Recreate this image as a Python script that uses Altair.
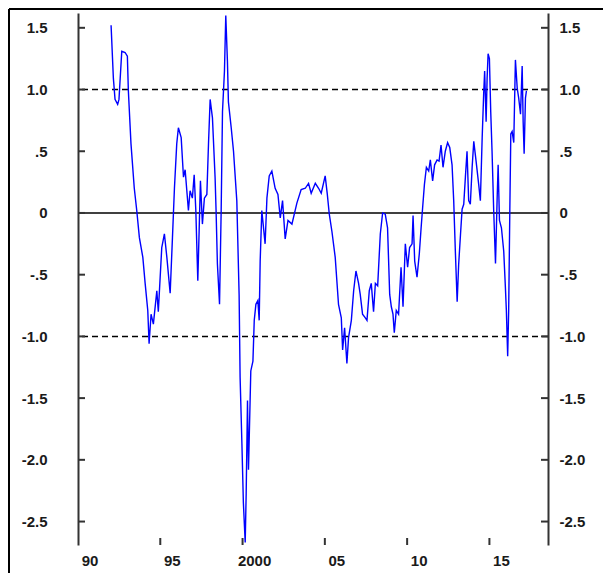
import altair as alt
import pandas as pd

years = [1992.01, 1992.15, 1992.25, 1992.41, 1992.49, 1992.66, 1992.86, 1993.0, 1993.06, 1993.22,
         1993.42, 1993.57, 1993.73, 1993.94, 1994.08, 1994.24, 1994.32, 1994.44, 1994.58, 1994.79,
         1994.88, 1995.09, 1995.25, 1995.4, 1995.6, 1995.74, 1995.86, 1996.0, 1996.1, 1996.27,
         1996.41, 1996.51, 1996.71, 1996.81, 1996.95, 1997.06, 1997.16, 1997.28, 1997.36, 1997.44,
         1997.56, 1997.68, 1997.83, 1997.93, 1998.03, 1998.17, 1998.33, 1998.39, 1998.47, 1998.6,
         1998.7, 1998.78, 1998.9, 1998.98, 1999.08, 1999.14, 1999.31, 1999.45, 1999.65, 1999.79,
         1999.85, 1999.96, 2000.05, 2000.16, 2000.22, 2000.3, 2000.36, 2000.5, 2000.63, 2000.71,
         2000.81, 2000.93, 2001.01, 2001.07, 2001.17, 2001.37, 2001.48, 2001.62, 2001.78, 2001.98,
         2002.15, 2002.29, 2002.43, 2002.59, 2002.76, 2003.0, 2003.3, 2003.56, 2003.81, 2004.01,
         2004.17, 2004.42, 2004.62, 2004.78, 2005.02, 2005.15, 2005.27, 2005.43, 2005.63, 2005.74,
         2005.83, 2006.0, 2006.08, 2006.2, 2006.34, 2006.44, 2006.61, 2006.75, 2006.89, 2007.05,
         2007.15, 2007.29, 2007.46, 2007.56, 2007.7, 2007.82, 2007.96, 2008.07, 2008.21, 2008.37,
         2008.51, 2008.67, 2008.81, 2008.94, 2009.04, 2009.14, 2009.22, 2009.34, 2009.48, 2009.63,
         2009.75, 2009.89, 2010.03, 2010.15, 2010.3, 2010.36, 2010.46, 2010.6, 2010.74, 2010.85,
         2010.94, 2011.05, 2011.17, 2011.31, 2011.41, 2011.55, 2011.67, 2011.82, 2011.94, 2012.06,
         2012.18, 2012.32, 2012.46, 2012.59, 2012.73, 2012.83, 2012.93, 2013.04, 2013.13, 2013.24,
         2013.34, 2013.44, 2013.54, 2013.64, 2013.74, 2013.84, 2013.95, 2014.05, 2014.19, 2014.35,
         2014.45, 2014.56, 2014.65, 2014.71, 2014.8, 2014.86, 2014.92, 2015.0, 2015.08, 2015.16,
         2015.26, 2015.37, 2015.47, 2015.53, 2015.61, 2015.73, 2015.87, 2015.97, 2016.03, 2016.11,
         2016.17, 2016.24, 2016.3, 2016.38, 2016.48, 2016.58, 2016.69, 2016.78, 2016.89, 2016.99,
         2017.05, 2017.11, 2017.19, 2017.25]
values = [1.52, 1.09, 0.92, 0.88, 0.92, 1.31, 1.30, 1.27, 0.99, 0.56,
          0.20, 0.02, -0.20, -0.36, -0.57, -0.79, -1.06, -0.82, -0.90, -0.63,
          -0.80, -0.28, -0.17, -0.36, -0.65, -0.20, 0.20, 0.56, 0.69, 0.61,
          0.29, 0.35, 0.02, 0.18, 0.12, 0.31, 0.02, -0.55, -0.15, 0.26,
          -0.09, 0.12, 0.15, 0.56, 0.92, 0.77, 0.29, 0.02, -0.41, -0.74,
          0.02, 0.82, 1.15, 1.60, 1.23, 0.90, 0.69, 0.50, 0.10, -0.66,
          -1.33, -1.87, -2.35, -2.67, -2.27, -1.52, -2.08, -1.28, -1.20, -0.87,
          -0.74, -0.71, -0.87, -0.39, 0.02, -0.25, 0.12, 0.30, 0.34, 0.20,
          0.15, -0.04, 0.10, -0.21, -0.06, -0.09, 0.08, 0.19, 0.20, 0.24,
          0.16, 0.24, 0.20, 0.16, 0.30, 0.15, -0.01, -0.15, -0.36, -0.57,
          -0.74, -0.85, -1.11, -0.93, -1.22, -1.01, -0.87, -0.63, -0.47, -0.57,
          -0.66, -0.82, -0.85, -0.87, -0.63, -0.57, -0.80, -0.57, -0.59, -0.17,
          0.00, -0.01, -0.12, -0.66, -0.76, -0.82, -0.97, -0.79, -0.82, -0.44,
          -0.76, -0.25, -0.44, -0.28, -0.25, -0.02, -0.39, -0.52, -0.33, -0.12,
          0.04, 0.23, 0.37, 0.34, 0.43, 0.26, 0.39, 0.43, 0.42, 0.55,
          0.37, 0.50, 0.57, 0.53, 0.39, 0.10, -0.31, -0.72, -0.42, -0.18,
          0.03, 0.07, 0.29, 0.50, 0.10, 0.07, 0.37, 0.58, 0.42, 0.23,
          0.10, 0.61, 0.96, 1.15, 0.74, 1.09, 1.29, 1.25, 0.82, 0.50,
          0.02, -0.41, 0.12, 0.39, -0.06, -0.12, -0.31, -0.60, -0.79, -1.16,
          -0.79, 0.02, 0.64, 0.66, 0.57, 1.24, 1.01, 0.93, 0.80, 1.19,
          0.74, 0.48, 0.93, 0.99]

y_ticks = [-2.5, -2.0, -1.5, -1.0, -0.5, 0.0, 0.5, 1.0, 1.5]
x_ticks = [1990, 1995, 2000, 2005, 2010, 2015]
x_labels = ["90", "95", "2000", "05", "10", "15"]
ref_levels = [-1.0, 1.0]
zero_level = [0.0]

W, H = 470, 532
XD = [1990, 2018.56]
YD = [-2.69, 1.62]
FONT = "Liberation Sans, Arial, sans-serif"
FS = 15
AX = "#333333"
TXT = "#1a1a1a"

df = pd.DataFrame({"year": years, "value": values})
yt = pd.DataFrame({"t": y_ticks})
xt = pd.DataFrame({"t": x_ticks[1:]})
xl = pd.DataFrame({"t": x_ticks, "lab": x_labels})
one = pd.DataFrame({"a": [0]})

xscale = alt.Scale(domain=XD, nice=False, zero=False)
yscale = alt.Scale(domain=YD, nice=False, zero=False)

ylab = ("datum.value == 0 ? '0' : (datum.value < 0 ? '-' : '') + "
        "(abs(datum.value) == 0.5 ? '.5' : format(abs(datum.value), '.1f'))")

def yaxis(orient, pad):
    return alt.Axis(orient=orient, values=y_ticks, labelExpr=ylab, ticks=False, grid=False,
                    domain=True, domainColor=AX, domainWidth=2, title=None,
                    labelPadding=pad, labelFont=FONT, labelFontSize=FS, labelFontWeight="bold",
                    labelColor=TXT, labelFlush=False, labelOverlap=False)

xaxis = alt.Axis(orient="bottom", values=x_ticks, ticks=False, labels=False, grid=False,
                 domain=True, domainColor=AX, domainWidth=2, title=None)

frame_left = alt.Chart(one).mark_rule(color="black", strokeWidth=2).encode(
    x=alt.value(-69), y=alt.value(-4), y2=alt.value(620))
frame_top = alt.Chart(one).mark_rule(color="black", strokeWidth=2).encode(
    x=alt.value(-69), x2=alt.value(620), y=alt.value(-4))

dashed = alt.Chart(pd.DataFrame({"lvl": ref_levels})).mark_rule(
    color="black", strokeDash=[6, 4], strokeWidth=1.5).encode(
    y=alt.Y("lvl:Q", scale=yscale, axis=yaxis("right", 11)))
zero = alt.Chart(pd.DataFrame({"lvl": zero_level})).mark_rule(
    color="black", strokeWidth=1.5).encode(
    y=alt.Y("lvl:Q", scale=yscale, axis=None))

line = alt.Chart(df).mark_line(color="#0000ff", strokeWidth=1.4).encode(
    x=alt.X("year:Q", scale=xscale, axis=xaxis),
    y=alt.Y("value:Q", scale=yscale, axis=yaxis("left", 31)))

lt = alt.Chart(yt).mark_rule(color=AX, strokeWidth=2).encode(
    y=alt.Y("t:Q", scale=yscale, axis=None), x=alt.value(0), x2=alt.value(7))
rt = alt.Chart(yt).mark_rule(color=AX, strokeWidth=2).encode(
    y=alt.Y("t:Q", scale=yscale, axis=None), x=alt.value(W - 7), x2=alt.value(W))
bt = alt.Chart(xt).mark_rule(color=AX, strokeWidth=2).encode(
    x=alt.X("t:Q", scale=xscale, axis=None), y=alt.value(H - 7), y2=alt.value(H))

xtext = alt.Chart(xl).mark_text(
    font=FONT, fontSize=FS, fontWeight="bold", color=TXT, baseline="top", align="center", dx=12
).encode(
    x=alt.X("t:Q", scale=xscale, axis=None), y=alt.value(H + 9), text="lab:N")

chart = alt.layer(frame_left, frame_top, dashed, zero, lt, rt, bt, line, xtext).resolve_axis(
    y="independent"
).properties(
    width=W, height=H,
    autosize=alt.AutoSizeParams(type="none"),
    padding={"left": 70, "top": 5, "right": 55, "bottom": 28},
    background="white",
).configure_view(stroke="transparent")

chart.save("out.html", embed_options={"renderer": "svg", "actions": False})
